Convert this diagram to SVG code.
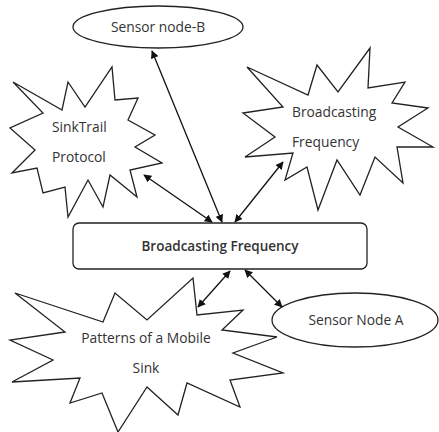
<svg xmlns="http://www.w3.org/2000/svg" width="439" height="432" viewBox="0 0 439 432">
<style>
.s{fill:#fff;stroke:#222;stroke-width:1.3;stroke-linejoin:miter}
.t{font-family:"Open Sans","Liberation Sans",sans-serif;font-size:13.8px;fill:#333}
.b{font-weight:600;font-size:13.5px}
.c{stroke:#111;stroke-width:1.3;fill:none;marker-start:url(#a);marker-end:url(#a)}
</style>
<defs>
<marker id="a" viewBox="0 0 10 10" refX="9" refY="5" markerWidth="8" markerHeight="8" orient="auto-start-reverse" markerUnits="userSpaceOnUse">
<path d="M0,0 L10,5 L0,10 z" fill="#111"/>
</marker>
</defs>
<rect width="439" height="432" fill="#fff"/>
<g id="sensorB">
<ellipse class="s" cx="158" cy="27" rx="85" ry="21"/>
<text class="t" x="158" y="32" text-anchor="middle">Sensor node-B</text>
</g>
<g id="sinktrail">
<polygon class="s" points="13,82 62,110 68,82 85,107 112,67 115,100 138,98 128,120 155,135 135,147 162,163 130,170 137,197 110,175 103,207 88,180 68,217 65,187 43,193 37,168 12,173 35,150 10,128 43,113"/>
<text class="t" x="52" y="132">SinkTrail</text>
<text class="t" x="52" y="162">Protocol</text>
</g>
<g id="broadcastStar">
<polygon class="s" points="247,67 308,95 317,65 338,92 370,48 368,88 405,82 392,103 428,108 398,127 433,147 397,147 403,183 375,157 360,195 337,160 318,210 307,167 285,180 293,153 245,157 275,137 243,113 283,107"/>
<text class="t" x="292" y="117">Broadcasting</text>
<text class="t" x="292" y="147">Frequency</text>
</g>
<g id="center">
<rect class="s" x="73" y="223" width="294" height="46" rx="6"/>
<text class="t b" x="220" y="251" text-anchor="middle">Broadcasting Frequency</text>
</g>
<g id="patterns">
<polygon class="s" points="15,293 103,322 115,293 147,320 193,278 197,315 243,310 222,330 277,337 233,353 283,373 230,380 240,407 187,383 178,415 147,387 118,432 102,393 70,403 80,378 12,382 53,360 10,340 65,332"/>
<text class="t" x="146" y="343" text-anchor="middle">Patterns of a Mobile</text>
<text class="t" x="146" y="373" text-anchor="middle">Sink</text>
</g>
<g id="sensorA">
<ellipse class="s" cx="355" cy="320" rx="83" ry="27"/>
<text class="t" x="356" y="325" text-anchor="middle">Sensor Node A</text>
</g>
<g id="connectors">
<line class="c" x1="152" y1="51" x2="222" y2="222"/>
<line class="c" x1="144" y1="175" x2="212" y2="222"/>
<line class="c" x1="283" y1="162" x2="235" y2="222"/>
<line class="c" x1="230" y1="271" x2="198" y2="307"/>
<line class="c" x1="245" y1="270" x2="282" y2="307"/>
</g>
</svg>
